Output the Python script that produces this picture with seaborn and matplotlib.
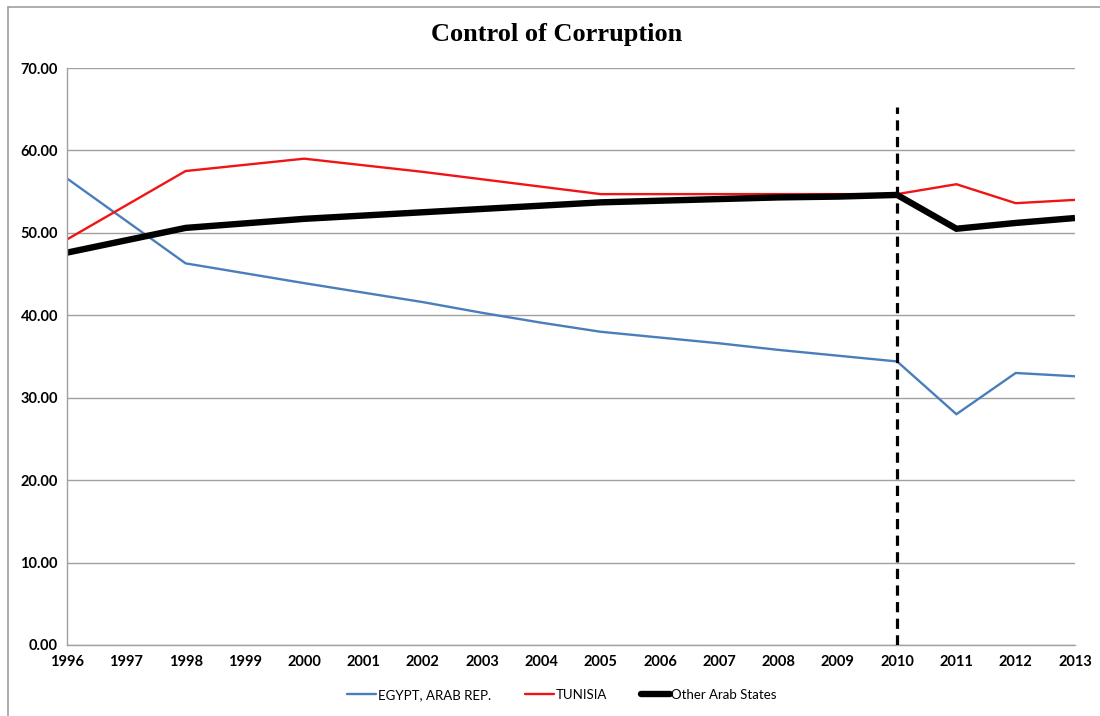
import matplotlib
matplotlib.use("Agg")
import matplotlib.pyplot as plt
from matplotlib.lines import Line2D
import numpy as np
import pandas as pd
import seaborn as sns

# Governance indicator: Control of Corruption (percentile rank)
years = [1996, 1998, 2000, 2002, 2003, 2004, 2005, 2006, 2007, 2008, 2009, 2010, 2011, 2012, 2013]
egypt = [56.6, 46.3, 43.9, 41.6, 40.3, 39.1, 38.0, 37.3, 36.6, 35.8, 35.1, 34.4, 28.0, 33.0, 32.6]
tunisia = [49.2, 57.5, 59.0, 57.4, 56.5, 55.6, 54.7, 54.7, 54.7, 54.7, 54.7, 54.7, 55.9, 53.6, 54.0]
other_arab = [47.6, 50.6, 51.7, 52.5, 52.9, 53.3, 53.7, 53.9, 54.1, 54.3, 54.4, 54.6, 50.5, 51.2, 51.8]

series_names = ["EGYPT, ARAB REP.", "TUNISIA", "Other Arab States"]
series_values = [egypt, tunisia, other_arab]

year_ticks = list(range(1996, 2014))
y_ticks = [0, 10, 20, 30, 40, 50, 60, 70]
event_year = 2010
event_top = 65.3

df = pd.concat(
    [pd.DataFrame({"Year": years, "Value": vals, "Series": name})
     for name, vals in zip(series_names, series_values)],
    ignore_index=True,
)

sns.set_theme(style="white")
plt.rcParams["font.family"] = ["Lato", "DejaVu Sans"]
plt.rcParams["text.color"] = "black"

fig = plt.figure(figsize=(11, 7.16), dpi=100)
ax = fig.add_axes([67 / 1100, 1 - 645 / 716, (1075 - 67) / 1100, (645 - 68) / 716])

palette = {"EGYPT, ARAB REP.": "#4A7EBB", "TUNISIA": "#F01414", "Other Arab States": "#000000"}
sizes = {"EGYPT, ARAB REP.": 1.7, "TUNISIA": 1.7, "Other Arab States": 4.6}

sns.lineplot(
    data=df, x="Year", y="Value", hue="Series", size="Series",
    palette=palette, sizes=sizes, hue_order=series_names, size_order=series_names,
    ax=ax, legend=False, estimator=None, sort=True,
)
for line in ax.get_lines():
    line.set_solid_joinstyle("miter")
    line.set_solid_capstyle("butt")

# dashed marker for the 2010 break
ax.plot([event_year, event_year], [0, event_top], color="black", lw=2.3,
        linestyle=(0, (3.2, 2.0)), zorder=5)

ax.set_xlim(years[0], years[-1])
ax.set_ylim(0, 70)
ax.set_xticks(year_ticks)
ax.set_xticklabels([str(y) for y in year_ticks], fontsize=10.5, fontweight="bold")
ax.set_yticks(y_ticks)
ax.set_yticklabels([f"{v:.2f}" for v in y_ticks], fontsize=10.5, fontweight="bold")
ax.set_xlabel("")
ax.set_ylabel("")

ax.yaxis.grid(True, color="#A0A0A0", lw=1.0)
ax.xaxis.grid(False)
ax.set_axisbelow(True)
for side in ["top", "right"]:
    ax.spines[side].set_visible(False)
for side in ["left", "bottom"]:
    ax.spines[side].set_color("#A0A0A0")
    ax.spines[side].set_linewidth(1.0)
ax.tick_params(axis="both", which="major", direction="out", length=4.5,
               width=1.0, color="#A0A0A0", labelcolor="black", pad=2)
ax.tick_params(axis="x", pad=3)

fig.text(557 / 1100, 1 - 34 / 716, "Control of Corruption", ha="center", va="center",
         fontsize=19, fontweight="bold", family="Liberation Serif", color="black")

handles = [Line2D([], [], color=palette[n], lw=sizes[n]) for n in series_names]
fig.legend(handles, series_names, loc="center", bbox_to_anchor=(0.511, 1 - 695 / 716),
           ncol=3, frameon=False, fontsize=9.5, handlelength=2.2, handletextpad=0.1,
           columnspacing=2.6)

# outer chart-area border
fig.add_artist(Line2D([8 / 1100, 1.0], [1 - 7 / 716, 1 - 7 / 716],
                      transform=fig.transFigure, color="#A0A0A0", lw=1.2))
fig.add_artist(Line2D([8 / 1100, 8 / 1100], [0.0, 1 - 7 / 716],
                      transform=fig.transFigure, color="#A0A0A0", lw=1.2))

fig.savefig("out.png", dpi=100, facecolor="white")
